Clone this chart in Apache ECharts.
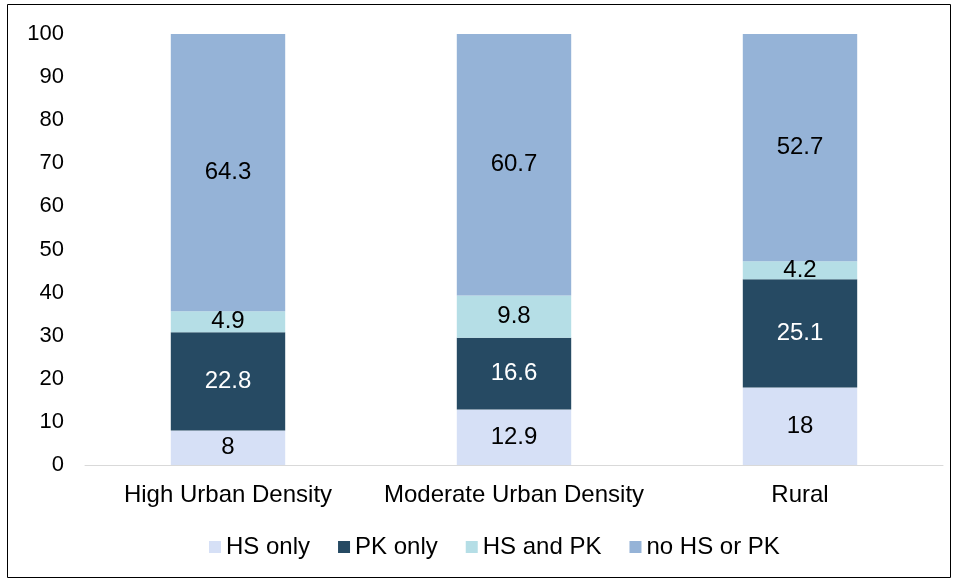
<!DOCTYPE html>
<html>
<head>
<meta charset="utf-8">
<script src="https://cdn.jsdelivr.net/npm/echarts@6/dist/echarts.min.js"></script>
<style>
html, body { margin: 0; padding: 0; background: #fff; }
#chart { width: 959px; height: 582px; }
</style>
</head>
<body>
<div id="chart"></div>
<script>
var categories = ['High Urban Density', 'Moderate Urban Density', 'Rural'];
var hsOnly = [8, 12.9, 18];
var pkOnly = [22.8, 16.6, 25.1];
var hsAndPk = [4.9, 9.8, 4.2];
var noHsPk = [64.3, 60.7, 52.7];
var yTicks = { min: 0, max: 100, interval: 10 };

var font = 'Liberation Sans, Arial, sans-serif';

function barSeries(name, data, color, labelColor) {
    return {
        name: name,
        type: 'bar',
        stack: 'total',
        data: data,
        barWidth: '40%',
        itemStyle: { color: color },
        label: {
            show: true,
            position: 'inside',
            color: labelColor,
            fontSize: 24,
            fontFamily: font
        }
    };
}

var chart = echarts.init(document.getElementById('chart'));
chart.setOption({
    animation: false,
    graphic: [{
        type: 'rect',
        shape: { x: 7.5, y: 4.5, width: 943, height: 573 },
        style: { fill: 'none', stroke: '#000', lineWidth: 1 },
        silent: true
    }],
    grid: { left: 85, right: 16, top: 34, bottom: 117 },
    legend: {
        bottom: 18,
        left: 204,
        itemWidth: 12,
        itemHeight: 12,
        itemGap: 28,
        icon: 'rect',
        textStyle: { fontSize: 24, fontFamily: font, color: '#000' },
        data: ['HS only', 'PK only', 'HS and PK', 'no HS or PK']
    },
    xAxis: {
        type: 'category',
        data: categories,
        axisLine: { lineStyle: { color: '#d9d9d9', width: 1 } },
        axisTick: { show: false },
        axisLabel: { fontSize: 24, fontFamily: font, color: '#000', margin: 18, interval: 0 }
    },
    yAxis: {
        type: 'value',
        min: yTicks.min,
        max: yTicks.max,
        interval: yTicks.interval,
        splitLine: { show: false },
        axisLine: { show: false },
        axisTick: { show: false },
        axisLabel: { fontSize: 22, fontFamily: font, color: '#000', margin: 21 }
    },
    series: [
        barSeries('HS only', hsOnly, '#d6e0f6', '#000'),
        barSeries('PK only', pkOnly, '#264a63', '#fff'),
        barSeries('HS and PK', hsAndPk, '#b5dee6', '#000'),
        barSeries('no HS or PK', noHsPk, '#95b3d7', '#000')
    ]
});
</script>
</body>
</html>
